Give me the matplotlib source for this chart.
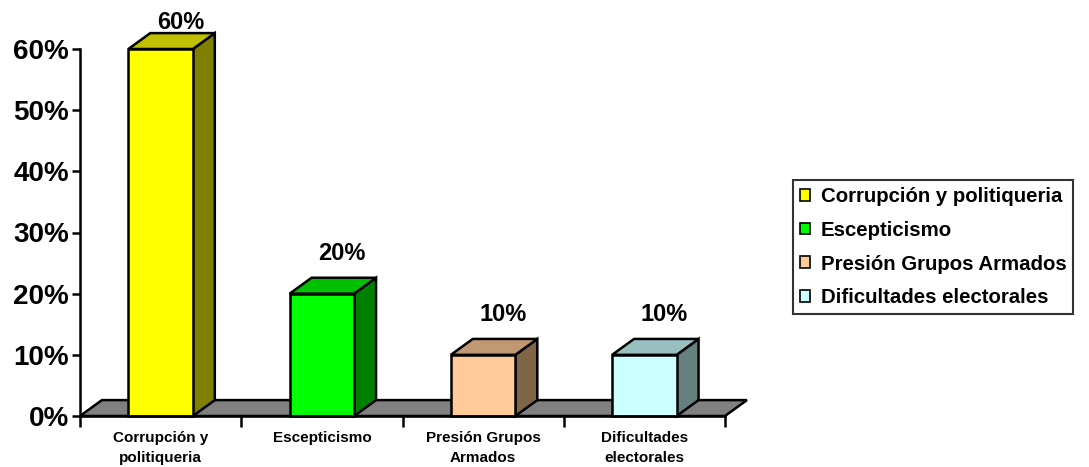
import matplotlib
matplotlib.use("Agg")
import matplotlib.pyplot as plt
from matplotlib.patches import Polygon, Patch

plt.rcParams['font.family'] = ['Liberation Sans', 'DejaVu Sans']
plt.rcParams['font.weight'] = 'bold'

categorias = ["Corrupción y politiqueria", "Escepticismo",
              "Presión Grupos Armados", "Dificultades electorales"]
etiquetas_eje = ["Corrupción y\npolitiqueria", "Escepticismo",
                 "Presión Grupos\nArmados", "Dificultades\nelectorales"]
valores = [60, 20, 10, 10]
etiquetas_valor = ["60%", "20%", "10%", "10%"]

colores_frente = ["#FFFF00", "#00FF00", "#FFCC99", "#CCFFFF"]
colores_techo = ["#C0C000", "#00C000", "#C09973", "#99C0C0"]
colores_lado = ["#808000", "#008000", "#806648", "#668080"]

# profundidad del efecto 3D (en unidades de categoria y de porcentaje)
DX = 0.136
DY = 2.6
ANCHO = 0.4
LW = 1.8

fig = plt.figure(figsize=(10.89, 4.67), dpi=100)
ax = fig.add_axes([80 / 1089, 1 - 416 / 467, 645 / 1089, 367 / 467])
ax.set_xlim(0, len(valores))
ax.set_ylim(0, 60)

# suelo gris
n = len(valores)
suelo = Polygon([(0, 0), (n, 0), (n + DX, DY), (DX, DY)], closed=True,
                facecolor="#808080", edgecolor="black", lw=LW,
                clip_on=False, zorder=1)
ax.add_patch(suelo)

for i, v in enumerate(valores):
    x0 = i + 0.5 - ANCHO / 2
    x1 = x0 + ANCHO
    lado = Polygon([(x1, 0), (x1 + DX, DY), (x1 + DX, v + DY), (x1, v)],
                   closed=True, facecolor=colores_lado[i], edgecolor="black",
                   lw=LW, clip_on=False, zorder=2)
    techo = Polygon([(x0, v), (x1, v), (x1 + DX, v + DY), (x0 + DX, v + DY)],
                    closed=True, facecolor=colores_techo[i], edgecolor="black",
                    lw=LW, clip_on=False, zorder=2)
    frente = Polygon([(x0, 0), (x1, 0), (x1, v), (x0, v)], closed=True,
                     facecolor=colores_frente[i], edgecolor="black",
                     lw=LW, clip_on=False, zorder=3)
    for p in (lado, techo, frente):
        ax.add_patch(p)
    y_txt = min(v + DY + 4, 64.3)
    ax.text(i + 0.5 + DX * 0.9, y_txt, etiquetas_valor[i], ha="center",
            va="center", fontsize=17, fontweight="bold", clip_on=False,
            zorder=4)

# ejes
for s in ("top", "right"):
    ax.spines[s].set_visible(False)
ax.spines["left"].set_linewidth(LW)
ax.spines["bottom"].set_linewidth(LW)
ax.spines["bottom"].set_zorder(5)

ax.set_yticks(range(0, 61, 10))
ax.set_yticklabels(["%d%%" % t for t in range(0, 61, 10)])
ax.tick_params(axis="y", labelsize=20, length=6, width=LW, pad=2)

ax.set_xticks(range(0, n + 1))
ax.set_xticklabels([])
ax.set_xticks([i + 0.5 for i in range(n)], minor=True)
ax.set_xticklabels(etiquetas_eje, minor=True, fontsize=11,
                   fontweight="bold", linespacing=1.55, va="top")
ax.tick_params(axis="x", which="major", length=8, width=LW)
ax.tick_params(axis="x", which="minor", length=0, pad=11)
for lab in ax.get_yticklabels():
    lab.set_fontweight("bold")

handles = [Patch(facecolor=colores_frente[i], edgecolor="black", lw=1.2)
           for i in range(n)]
leg = fig.legend(handles, categorias, loc="upper left",
                 bbox_to_anchor=(793 / 1089, 1 - 180 / 467),
                 prop={"size": 14.7, "weight": "bold"}, frameon=True,
                 fancybox=False, edgecolor="black", handlelength=0.5,
                 handleheight=0.5, handletextpad=0.5, labelspacing=0.72,
                 borderpad=0.35, borderaxespad=0)
leg.get_frame().set_linewidth(1.5)

fig.savefig("out.png", dpi=100)
